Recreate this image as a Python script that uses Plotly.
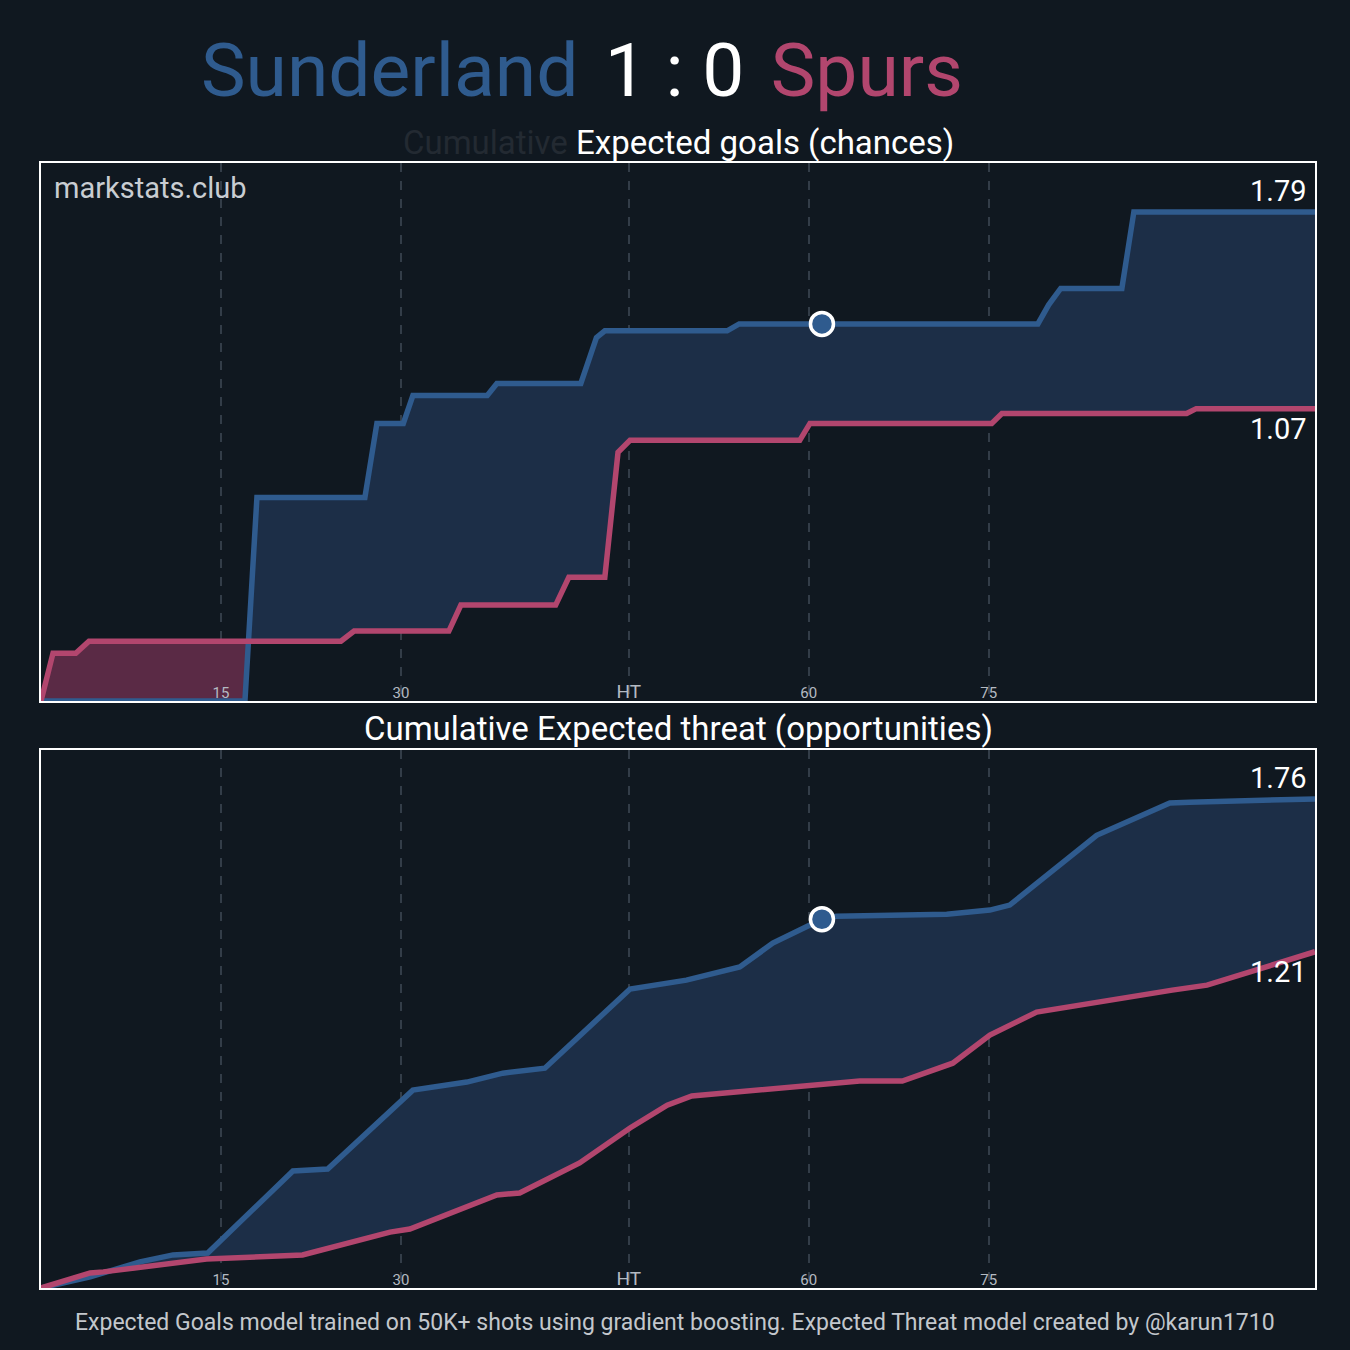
import numpy as np
import plotly.graph_objects as go

# ---------------- data ----------------
home_team = "Sunderland"
away_team = "Spurs"
score = "1 : 0"

# cumulative xG (minute on match clock incl. stoppage, value)
xg_home_min = [0, 17, 18, 27, 28, 30.2, 31, 37.2, 38, 45, 46.3, 47, 57.2, 58.2, 83.1, 84, 85, 90.1, 91.1, 106.2]
xg_home_val = [0, 0, 0.745, 0.745, 1.016, 1.016, 1.118, 1.118, 1.162, 1.162, 1.33, 1.355, 1.355, 1.38, 1.38, 1.45, 1.51, 1.51, 1.79, 1.79]
xg_away_min = [0, 1, 2.9, 4, 25, 26.1, 34, 35, 42.9, 44, 47, 48.1, 49.1, 63.25, 64.1, 79.25, 80.1, 95.5, 96.3, 106.2]
xg_away_val = [0, 0.175, 0.175, 0.219, 0.219, 0.256, 0.256, 0.351, 0.351, 0.453, 0.453, 0.91, 0.954, 0.954, 1.016, 1.016, 1.052, 1.052, 1.07, 1.07]

# cumulative xT
xt_home_min = [0, 4.1, 8.25, 11, 13.9, 21, 23.9, 31, 35.5, 38.5, 42, 49.1, 53.8, 58.25, 61, 65.1, 66.3, 75.5, 79.1, 80.75, 88, 94.1, 95.75, 106.2]
xt_home_val = [0, 0.040, 0.094, 0.119, 0.126, 0.421, 0.428, 0.712, 0.741, 0.773, 0.791, 1.076, 1.108, 1.155, 1.241, 1.327, 1.338, 1.345, 1.360, 1.378, 1.629, 1.745, 1.748, 1.76]
xt_away_min = [0, 4.1, 5.2, 13.8, 21.8, 29.1, 30.75, 35.3, 38, 39.9, 44.9, 49.1, 52.2, 54.25, 64.1, 68.25, 71.8, 76, 79.1, 83, 94.3, 97.2, 106.2]
xt_away_val = [0, 0.054, 0.058, 0.104, 0.119, 0.201, 0.212, 0.288, 0.335, 0.342, 0.450, 0.576, 0.658, 0.691, 0.730, 0.745, 0.745, 0.809, 0.910, 0.993, 1.072, 1.090, 1.21]

home_goal_minutes = [65.1]

tick_vals = [15, 30, 49, 64, 79]
tick_text = ["15", "30", "<span style='font-size:19px'>HT</span>", "60", "75"]

# ---------------- style ----------------
BG = "#101820"
BLUE = "#2f5b8e"
RED = "#b2466e"
BLUE_FILL = "#1c2e47"
RED_FILL = "#5a2a45"
GRID = "#333d48"

fig = go.Figure()


def fill_regions(xa, ya, xb, yb):
    xs = np.unique(np.concatenate([xa, xb]))
    a = np.interp(xs, xa, ya)
    b = np.interp(xs, xb, yb)
    X, A, B = [xs[0]], [a[0]], [b[0]]
    for i in range(1, len(xs)):
        d0 = a[i - 1] - b[i - 1]
        d1 = a[i] - b[i]
        if d0 * d1 < 0:
            t = d0 / (d0 - d1)
            xc = xs[i - 1] + t * (xs[i] - xs[i - 1])
            yc = a[i - 1] + t * (a[i] - a[i - 1])
            X.append(xc); A.append(yc); B.append(yc)
        X.append(xs[i]); A.append(a[i]); B.append(b[i])
    X, A, B = np.array(X), np.array(A), np.array(B)
    regions = []
    i = 0
    n = len(X)
    while i < n - 1:
        s = np.sign((A[i] + A[i + 1]) - (B[i] + B[i + 1]))
        j = i
        while j < n - 1 and np.sign((A[j] + A[j + 1]) - (B[j] + B[j + 1])) in (s, 0):
            j += 1
        seg = slice(i, j + 1)
        px = list(X[seg]) + list(X[seg][::-1])
        py = list(A[seg]) + list(B[seg][::-1])
        regions.append((s, px, py))
        i = j
    return regions


def add_panel(xa, ya, xb, yb, xref, yref):
    for s, px, py in fill_regions(np.array(xa, float), np.array(ya, float),
                                   np.array(xb, float), np.array(yb, float)):
        if s == 0:
            continue
        fig.add_trace(go.Scatter(x=px, y=py, xaxis=xref, yaxis=yref, mode="lines",
                                 line=dict(width=0), fill="toself",
                                 fillcolor=BLUE_FILL if s > 0 else RED_FILL,
                                 hoverinfo="skip", showlegend=False))
    fig.add_trace(go.Scatter(x=xa, y=ya, xaxis=xref, yaxis=yref, mode="lines",
                             line=dict(color=BLUE, width=5.5), showlegend=False))
    fig.add_trace(go.Scatter(x=xb, y=yb, xaxis=xref, yaxis=yref, mode="lines",
                             line=dict(color=RED, width=5.5), showlegend=False))
    gy = [float(np.interp(m, xa, ya)) for m in home_goal_minutes]
    fig.add_trace(go.Scatter(x=home_goal_minutes, y=gy, xaxis=xref, yaxis=yref, mode="markers",
                             marker=dict(size=23, color=BLUE, line=dict(color="white", width=3.5)),
                             showlegend=False))
    hi_is_a = ya[-1] >= yb[-1]
    for vals, mins, is_hi in [(ya, xa, hi_is_a), (yb, xb, not hi_is_a)]:
        fig.add_annotation(x=mins[-1], y=vals[-1], xref=xref, yref=yref,
                           text=f"{vals[-1]:.2f}", showarrow=False,
                           xanchor="right", yanchor="bottom" if is_hi else "top",
                           xshift=-6, yshift=2 if is_hi else -1,
                           font=dict(size=29, color="white", family="Roboto"))


add_panel(xg_home_min, xg_home_val, xg_away_min, xg_away_val, "x", "y")
add_panel(xt_home_min, xt_home_val, xt_away_min, xt_away_val, "x2", "y2")

xmax = max(xg_home_min[-1], xg_away_min[-1])
ymax1 = max(max(xg_home_val), max(xg_away_val)) * 1.1
ymax2 = max(max(xt_home_val), max(xt_away_val)) * 1.1

axis_common = dict(showline=True, linecolor="white", linewidth=2, mirror=True, zeroline=False)
xaxis_common = dict(axis_common, range=[0, xmax], tickvals=tick_vals, ticktext=tick_text,
                    ticklabelposition="inside", ticks="", showgrid=True, gridcolor=GRID,
                    griddash="dash", gridwidth=2,
                    tickfont=dict(size=15, color="#b4bac2", family="Roboto"))
yaxis_common = dict(axis_common, showgrid=False, showticklabels=False, ticks="")

top_dom = [(538 + 49) / 1125, 1]
bot_dom = [0, 538 / 1125]

fig.update_layout(
    width=1350, height=1350,
    paper_bgcolor=BG, plot_bgcolor=BG,
    margin=dict(l=41, r=35, t=163, b=62),
    font=dict(family="Roboto", color="white"),
    xaxis=dict(xaxis_common, domain=[0, 1], anchor="y"),
    yaxis=dict(yaxis_common, domain=top_dom, range=[0, ymax1], anchor="x"),
    xaxis2=dict(xaxis_common, domain=[0, 1], anchor="y2"),
    yaxis2=dict(yaxis_common, domain=bot_dom, range=[0, ymax2], anchor="x2"),
    showlegend=False,
)

H = 1125.0
fig.add_annotation(xref="paper", yref="paper", x=(582 - 41) / 1274, y=1 + (163 - 70) / H,
                   xanchor="center", yanchor="middle", showarrow=False,
                   text=f"<span style='color:{BLUE}'>{home_team}</span> &#8202;"
                        f"<span style='color:white'>{score}</span> &#8202;"
                        f"<span style='color:{RED}'>{away_team}</span>",
                   font=dict(size=75, family="Roboto"))
fig.add_annotation(xref="paper", yref="paper", x=0.5, y=1 + (163 - 142) / H,
                   xanchor="center", yanchor="middle", showarrow=False,
                   text="<span style='color:#232a32'>Cumulative</span> Expected goals (chances)",
                   font=dict(size=33, family="Roboto", color="white"))
fig.add_annotation(xref="paper", yref="paper", x=0.5, y=(1288 - 728) / H,
                   xanchor="center", yanchor="middle", showarrow=False,
                   text="Cumulative Expected threat (opportunities)",
                   font=dict(size=33, family="Roboto", color="white"))
fig.add_annotation(xref="paper", yref="paper", x=(52 - 41) / 1274, y=(1288 - 188) / H,
                   xanchor="left", yanchor="middle", showarrow=False,
                   text="markstats.club", font=dict(size=29, family="Roboto", color="#c9cdd2"))
fig.add_annotation(xref="paper", yref="paper", x=(675 - 41) / 1274, y=(1288 - 1322) / H,
                   xanchor="center", yanchor="middle", showarrow=False,
                   text="Expected Goals model trained on 50K+ shots using gradient boosting. "
                        "Expected Threat model created by @karun1710",
                   font=dict(size=23, family="Roboto", color="#c3c7cc"))

fig.write_html("out.html", config={"displayModeBar": False},
               post_script="document.body.style.margin='0';document.body.style.background='#101820';")
